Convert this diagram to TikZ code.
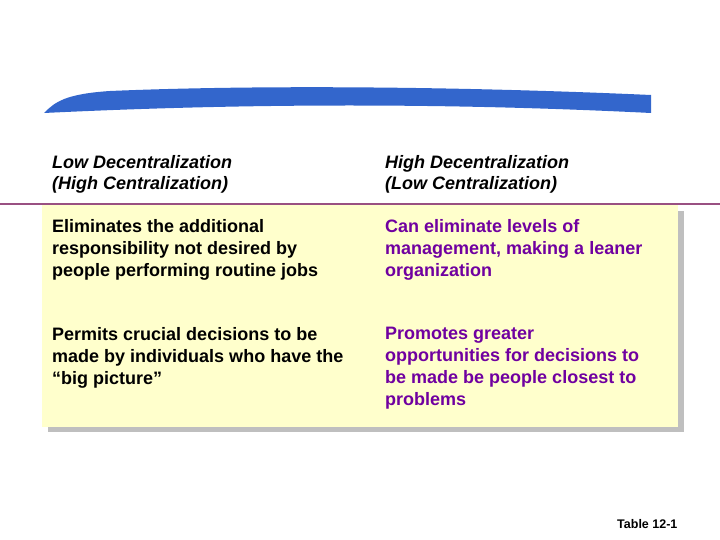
\documentclass[tikz,border=0pt]{standalone}
\usepackage{fontspec}
\setmainfont{Liberation Sans}
\begin{document}
\begin{tikzpicture}[x=1pt,y=-1pt,
  hdr/.style={anchor=north west,align=left,font=\fontsize{18}{21}\selectfont\bfseries\itshape,inner sep=0pt},
  lcell/.style={anchor=north west,align=left,font=\fontsize{18}{22}\selectfont\bfseries,inner sep=0pt},
  rcell/.style={lcell,text={rgb,255:red,112;green,0;blue,160}}]
\useasboundingbox (0,0) rectangle (720,540);
\definecolor{swoosh}{RGB}{51,102,204}
\definecolor{pale}{RGB}{255,255,204}
\definecolor{rule}{RGB}{153,80,130}
\fill[swoosh] (44,113) .. controls (55,102) and (65,94) .. (110,91)
  .. controls (250,85) and (450,86) .. (651,95) -- (651,113)
  .. controls (450,103) and (250,103) .. cycle;
\fill[gray!50] (48,211) rectangle (684,432);
\fill[pale] (42,205) rectangle (678,427);
\draw[rule,line width=1.5pt] (0,204) -- (720,204);
\node[hdr] (h1) at (52,155) {Low Decentralization\\(High Centralization)};
\node[hdr] (h2) at (385,155) {High Decentralization\\(Low Centralization)};
\node[lcell] (l1) at (52,219) {Eliminates the additional\\responsibility not desired by\\people performing routine jobs};
\node[lcell] (l2) at (52,327) {Permits crucial decisions to be\\made by individuals who have the\\“big picture”};
\node[rcell] (r1) at (385,219) {Can eliminate levels of\\management, making a leaner\\organization};
\node[rcell] (r2) at (385,327) {Promotes greater\\opportunities for decisions to\\be made be people closest to\\problems};
\node[anchor=north west,inner sep=0pt,font=\fontsize{12.5}{14}\selectfont\bfseries] (t) at (617,519) {Table 12-1};
\end{tikzpicture}
\end{document}
